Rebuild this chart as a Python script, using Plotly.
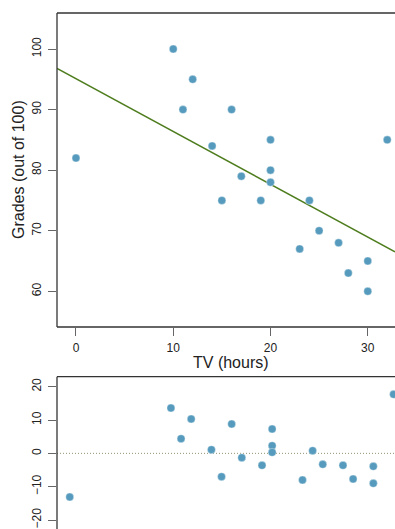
import plotly.graph_objects as go

# ---- data ----
tv_hours = [0, 10, 11, 12, 14, 15, 16, 17, 19, 20, 20, 20, 23, 24, 25, 27, 28, 30, 30, 32]
grades = [82, 100, 90, 95, 84, 75, 90, 79, 75, 85, 80, 78, 67, 75, 70, 68, 63, 65, 60, 85]
residuals = [-13.1, 13.6, 4.4, 10.3, 1.1, -7.0, 8.8, -1.3, -3.6, 7.3, 2.3, 0.3,
             -8.0, 0.8, -3.3, -3.6, -7.7, -3.9, -9.0, 17.7]
fit_intercept = 95.1
fit_slope = -0.872

x_ticks_top = [0, 10, 20, 30]
y_ticks_top = [60, 70, 80, 90, 100]
y_ticks_bottom = [-20, -10, 0, 10, 20]

# ---- layout constants ----
W, H = 395, 529
PT_COLOR = "#569BBD"
LINE_COLOR = "#4E7D1E"
FONT = "Liberation Sans, Arial, Helvetica, sans-serif"

top_xr = [-1.95, 32.8]
top_yr = [54.1, 105.95]
bot_xr = [-1.26, 32.14]
bot_yr = [-22.7, 23.0]

def py(px):
    return 1 - px / H

def pxx(px):
    return px / W

x0 = pxx(57)
top_dom = [py(327), py(13)]
bot_dom = [0, py(376.7)]

fig = go.Figure()

line_x = [top_xr[0], top_xr[1]]
line_y = [fit_intercept + fit_slope * v for v in line_x]
fig.add_trace(go.Scatter(x=line_x, y=line_y, mode="lines",
                         line=dict(color=LINE_COLOR, width=1.5),
                         xaxis="x", yaxis="y", hoverinfo="skip", showlegend=False))
fig.add_trace(go.Scatter(x=tv_hours, y=grades, mode="markers",
                         marker=dict(color=PT_COLOR, size=8, line=dict(width=0.6, color="rgba(255,255,255,0.6)")),
                         xaxis="x", yaxis="y", showlegend=False))

fig.add_trace(go.Scatter(x=bot_xr, y=[0, 0], mode="lines",
                         line=dict(color="rgba(120,120,80,0.8)", width=1, dash="1px,2px"),
                         xaxis="x2", yaxis="y2", hoverinfo="skip", showlegend=False))
fig.add_trace(go.Scatter(x=tv_hours, y=residuals, mode="markers",
                         marker=dict(color=PT_COLOR, size=8, line=dict(width=0.6, color="rgba(255,255,255,0.6)")),
                         xaxis="x2", yaxis="y2", showlegend=False))

tickfont = dict(family=FONT, size=12, color="#222")
fig.update_layout(
    width=W, height=H,
    margin=dict(l=0, r=0, t=0, b=0),
    paper_bgcolor="white", plot_bgcolor="white",
    xaxis=dict(domain=[x0, 1], range=top_xr, anchor="y", tickvals=x_ticks_top,
               ticks="outside", ticklen=8, tickcolor="#666", tickwidth=1,
               showgrid=False, zeroline=False, showline=False,
               tickfont=tickfont, ticklabelstandoff=2),
    yaxis=dict(domain=top_dom, range=top_yr, anchor="x", tickvals=y_ticks_top,
               ticks="outside", ticklen=8, tickcolor="#666", tickwidth=1,
               showgrid=False, zeroline=False, showline=False,
               tickangle=-90, tickfont=tickfont, ticklabelstandoff=2),
    xaxis2=dict(domain=[x0, 1], range=bot_xr, anchor="y2", visible=False),
    yaxis2=dict(domain=bot_dom, range=bot_yr, anchor="x2", tickvals=y_ticks_bottom,
                ticks="outside", ticklen=8, tickcolor="#666", tickwidth=1,
                showgrid=False, zeroline=False, showline=False,
                tickangle=-90, tickfont=tickfont, ticklabelstandoff=2),
    font=dict(family=FONT, color="#222"),
)

border = dict(color="#333", width=1.3)
shapes = [
    dict(type="line", xref="paper", yref="paper", x0=x0, x1=x0, y0=top_dom[0], y1=top_dom[1], line=border),
    dict(type="line", xref="paper", yref="paper", x0=x0, x1=1, y0=top_dom[1], y1=top_dom[1], line=border),
    dict(type="line", xref="paper", yref="paper", x0=x0, x1=1, y0=top_dom[0], y1=top_dom[0], line=border),
    dict(type="line", xref="paper", yref="paper", x0=x0, x1=x0, y0=bot_dom[0], y1=bot_dom[1], line=border),
    dict(type="line", xref="paper", yref="paper", x0=x0, x1=1, y0=bot_dom[1], y1=bot_dom[1], line=border),
]
fig.update_layout(shapes=shapes)

fig.add_annotation(text="Grades (out of 100)", xref="paper", yref="paper",
                   x=pxx(19), y=py(170), textangle=-90, showarrow=False,
                   font=dict(family=FONT, size=16, color="#222"), xanchor="center", yanchor="middle")
fig.add_annotation(text="TV (hours)", xref="paper", yref="paper",
                   x=pxx(231), y=py(362.5), showarrow=False,
                   font=dict(family=FONT, size=16, color="#222"), xanchor="center", yanchor="middle")

fig.write_html("out.html",
               config={"displayModeBar": False},
               post_script="document.body.style.margin='0';document.body.style.overflow='hidden';"
                           "document.documentElement.style.overflow='hidden';")
